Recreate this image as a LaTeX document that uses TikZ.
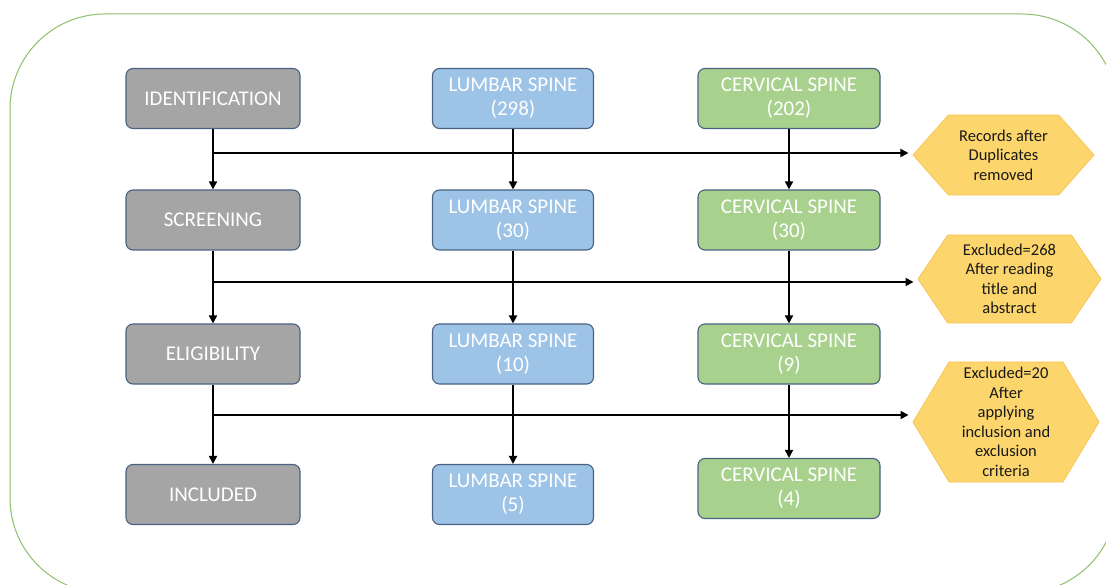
\documentclass[tikz,border=0pt]{standalone}
\usepackage{fontspec}
\setmainfont{Carlito}
\usetikzlibrary{shapes.symbols,arrows.meta}
\definecolor{frame}{HTML}{8CBF6A}
\definecolor{edge}{HTML}{4A6282}
\definecolor{grayfill}{HTML}{A5A5A5}
\definecolor{bluefill}{HTML}{9DC3E6}
\definecolor{greenfill}{HTML}{A9D18E}
\definecolor{hexfill}{HTML}{FCD56C}
\definecolor{hexedge}{HTML}{F5C55A}
\tikzset{
  stagebox/.style={draw=edge, line width=1.1pt, rounded corners=7pt,
    minimum height=60pt, text=white, align=center,
    font=\fontsize{21}{24}\selectfont, inner sep=0pt},
  graybox/.style={stagebox, fill=grayfill, minimum width=174pt},
  bluebox/.style={stagebox, fill=bluefill, minimum width=161pt},
  greenbox/.style={stagebox, fill=greenfill, minimum width=182pt},
  hexbox/.style={shape=signal, signal to=east and west, fill=hexfill,
    draw=hexedge, line width=0.8pt, align=center, inner sep=0pt,
    text=black!90, font=\fontsize{16.5}{19.5}\selectfont},
  arr/.style={line width=1.8pt, -{Triangle[length=8pt,width=8pt]}}
}
\begin{document}
\begin{tikzpicture}[x=1pt,y=-1pt]
\useasboundingbox (0,0) rectangle (1106,585);
\begin{scope}
\clip (0,0) rectangle (1106,585);
\draw[frame, line width=1pt, rounded corners=95pt] (10,14) rectangle (1117,593);
\end{scope}

% stage column
\node[graybox] (id)   at (213,98.5) {IDENTIFICATION};
\node[graybox] (scr)  at (213,220)  {SCREENING};
\node[graybox] (elig) at (213,354)  {ELIGIBILITY};
\node[graybox] (inc)  at (213,494.5){INCLUDED};

% lumbar column
\node[bluebox] (l1) at (513,98.5) {LUMBAR SPINE\\(298)};
\node[bluebox] (l2) at (513,220)  {LUMBAR SPINE\\(30)};
\node[bluebox] (l3) at (513,354)  {LUMBAR SPINE\\(10)};
\node[bluebox] (l4) at (513,494.5){LUMBAR SPINE\\(5)};

% cervical column
\node[greenbox] (c1) at (789,98.5) {CERVICAL SPINE\\(202)};
\node[greenbox] (c2) at (789,220)  {CERVICAL SPINE\\(30)};
\node[greenbox] (c3) at (789,354)  {CERVICAL SPINE\\(9)};
\node[greenbox] (c4) at (789,488.5){CERVICAL SPINE\\(4)};

% exclusion notes
\node[hexbox, minimum width=181pt, minimum height=80pt, signal pointer angle=97]
  (h1) at (1003.5,155) {Records after\\Duplicates\\removed};
\node[hexbox, minimum width=183pt, minimum height=88pt, signal pointer angle=112]
  (h2) at (1009.5,279) {Excluded=268\\After reading\\title and\\abstract};
\node[hexbox, minimum width=186pt, minimum height=120pt, signal pointer angle=118]
  (h3) at (1006,422) {Excluded=20\\After\\applying\\inclusion and\\exclusion\\criteria};

% vertical flow
\draw[arr] (id.south) -- (scr.north);
\draw[arr] (scr.south) -- (elig.north);
\draw[arr] (elig.south) -- (inc.north);
\draw[arr] (l1.south) -- (l2.north);
\draw[arr] (l2.south) -- (l3.north);
\draw[arr] (l3.south) -- (l4.north);
\draw[arr] (c1.south) -- (c2.north);
\draw[arr] (c2.south) -- (c3.north);
\draw[arr] (c3.south) -- (c4.north);

% branches to the notes
\draw[arr] (id.south |- 0,153) -- ([xshift=-4pt]h1.west |- 0,153);
\draw[arr] (scr.south |- 0,282) -- ([xshift=-4pt]h2.west |- 0,282);
\draw[arr] (elig.south |- 0,415) -- ([xshift=-4pt]h3.west |- 0,415);
\end{tikzpicture}
\end{document}
